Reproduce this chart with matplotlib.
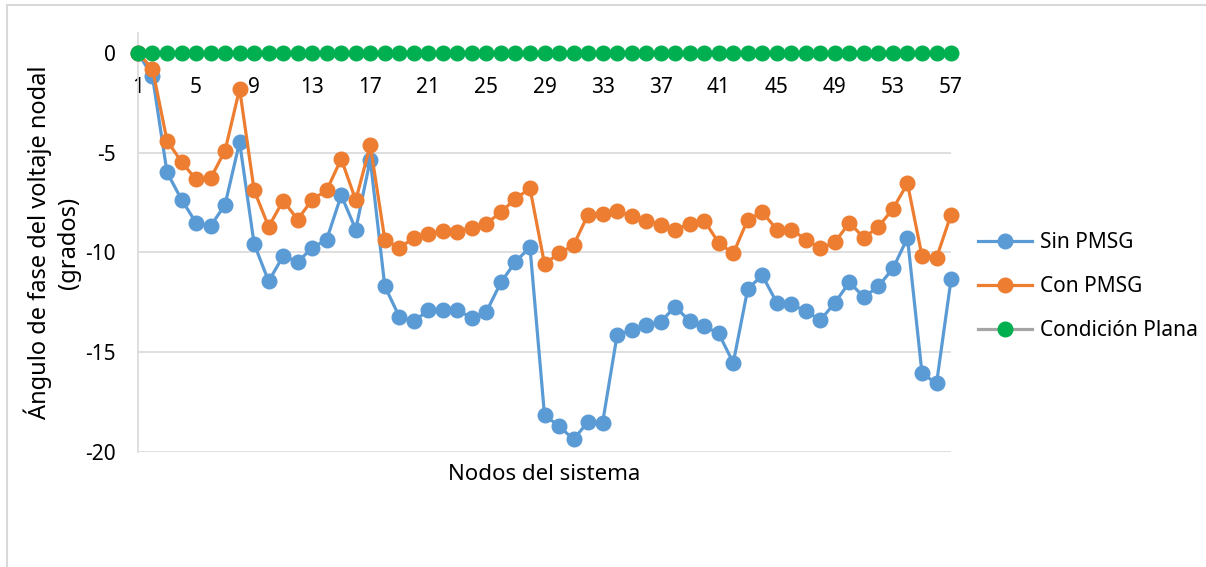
import matplotlib.pyplot as plt
from matplotlib.lines import Line2D

nodes = list(range(1, 58))

sin_pmsg = [0, -1.17, -5.98, -7.35, -8.51, -8.68, -7.6, -4.47, -9.57, -11.44,
            -10.18, -10.47, -9.77, -9.35, -7.13, -8.85, -5.34, -11.69, -13.22, -13.44,
            -12.9, -12.9, -12.9, -13.27, -12.97, -11.49, -10.47, -9.73, -18.16, -18.7,
            -19.37, -18.48, -18.53, -14.14, -13.89, -13.64, -13.47, -12.72, -13.44, -13.69,
            -14.06, -15.53, -11.82, -11.15, -12.52, -12.6, -12.94, -13.39, -12.52, -11.49,
            -12.24, -11.69, -10.8, -9.27, -16.06, -16.56, -11.35]

con_pmsg = [0, -0.8, -4.39, -5.46, -6.34, -6.29, -4.89, -1.8, -6.88, -8.71,
            -7.4, -8.35, -7.35, -6.88, -5.31, -7.38, -4.62, -9.35, -9.77, -9.27,
            -9.05, -8.93, -8.96, -8.76, -8.55, -7.98, -7.3, -6.79, -10.57, -10.05,
            -9.63, -8.1, -8.06, -7.93, -8.18, -8.4, -8.6, -8.85, -8.56, -8.4,
            -9.52, -10.05, -8.35, -7.98, -8.85, -8.85, -9.35, -9.8, -9.48, -8.51,
            -9.27, -8.71, -7.81, -6.54, -10.18, -10.27, -8.1]

plana = [0] * 57

xticks = list(range(1, 58, 4))
yticks = [0, -5, -10, -15, -20]

plt.rcParams['font.family'] = ['Noto Sans', 'DejaVu Sans']
plt.rcParams['axes.unicode_minus'] = False

fig = plt.figure(figsize=(12.06, 5.67), dpi=100)
ax = fig.add_axes([0.1144, 0.2028, 0.6742, 0.739])

grid_c = '#D9D9D9'
ms = 10.5
lw = 2.3
ax.plot(nodes, sin_pmsg, color='#5B9BD5', lw=lw, marker='o', ms=ms, label='Sin PMSG', clip_on=False, zorder=3)
ax.plot(nodes, con_pmsg, color='#ED7D31', lw=lw, marker='o', ms=ms, label='Con PMSG', clip_on=False, zorder=4)
ax.plot(nodes, plana, color='#A5A5A5', lw=lw, marker='o', ms=ms, markerfacecolor='#00B050',
        markeredgecolor='#00B050', label='Condición Plana', clip_on=False, zorder=5)

ax.set_xlim(1, 57)
ax.set_ylim(-20, 1)
ax.set_yticks(yticks)
ax.set_xticks(xticks)
for v in [-5, -10, -15, -20]:
    ax.axhline(v, color=grid_c, lw=1.2, zorder=1)

for s in ['top', 'right']:
    ax.spines[s].set_visible(False)
ax.spines['left'].set_color(grid_c)
ax.spines['left'].set_linewidth(1.2)
ax.spines['bottom'].set_position(('data', 0))
ax.spines['bottom'].set_color(grid_c)
ax.tick_params(axis='both', length=0, labelsize=15)
ax.tick_params(axis='x', pad=17)
ax.tick_params(axis='y', pad=16)

ax.set_xlabel('Nodos del sistema', fontsize=16)
ax.xaxis.set_label_coords(0.5, -0.028)
ax.set_ylabel('Ángulo de fase del voltaje nodal\n(grados)', fontsize=17, linespacing=1.3, labelpad=3)

ax.legend(loc='center left', bbox_to_anchor=(0.795, 0.494), bbox_transform=fig.transFigure,
          frameon=False, fontsize=15, handlelength=2.6, handletextpad=0.4, labelspacing=1.1)

fig.add_artist(Line2D([7 / 1206, 7 / 1206], [0, 1 - 5 / 567], transform=fig.transFigure, color=grid_c, lw=1.5))
fig.add_artist(Line2D([7 / 1206, 1], [1 - 5 / 567, 1 - 5 / 567], transform=fig.transFigure, color=grid_c, lw=1.5))

fig.savefig('out.png', dpi=100)
